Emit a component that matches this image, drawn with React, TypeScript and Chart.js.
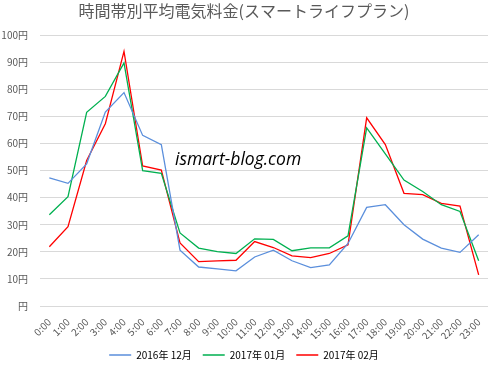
import React, { useEffect, useRef } from "react";
import { Chart, registerables } from "chart.js";

Chart.register(...registerables);

const hours = ["0:00","1:00","2:00","3:00","4:00","5:00","6:00","7:00","8:00","9:00","10:00","11:00","12:00","13:00","14:00","15:00","16:00","17:00","18:00","19:00","20:00","21:00","22:00","23:00"];
const dec2016 = [47.3,45.3,52.5,71.6,78.8,63.0,59.6,20.6,14.4,13.7,13.0,18.1,20.6,16.7,14.2,15.2,23.1,36.4,37.4,30.0,24.7,21.4,19.8,26.3];
const jan2017 = [33.7,40.4,71.5,77.4,89.8,50.0,49.0,27.0,21.4,20.1,19.4,24.8,24.6,20.4,21.5,21.5,25.9,65.8,56.2,46.5,42.3,37.4,34.9,16.7];
const feb2017 = [21.9,29.3,53.7,67.3,94.0,51.7,50.2,23.3,16.4,16.7,16.9,23.8,21.6,18.5,17.9,19.4,22.6,69.5,59.6,41.6,41.1,37.9,36.9,11.5];
const seriesNames = ["2016年 12月", "2017年 01月", "2017年 02月"];
const titleText = "時間帯別平均電気料金(スマートライフプラン)";
const watermark = "ismart-blog.com";

const FONT = "'Noto Sans CJK JP', 'Noto Sans', sans-serif";

export default function App() {
  const ref = useRef<HTMLCanvasElement>(null);
  useEffect(() => {
    document.body.style.margin = "0";
    const wm = {
      id: "wm",
      afterDatasetsDraw(chart: any) {
        const ctx = chart.ctx;
        ctx.save();
        ctx.font = "italic 17.5px 'Open Sans', sans-serif";
        ctx.fillStyle = "#000";
        ctx.textAlign = "left";
        ctx.textBaseline = "alphabetic";
        ctx.fillText(watermark, 175, 165);
        ctx.restore();
      },
    };
    const chart = new Chart(ref.current!, {
      type: "line",
      data: {
        labels: hours,
        datasets: [
          { label: seriesNames[0], data: dec2016, borderColor: "#5B8FDC", backgroundColor: "#5B8FDC", borderWidth: 1.3, pointRadius: 0, tension: 0 },
          { label: seriesNames[1], data: jan2017, borderColor: "#00B050", backgroundColor: "#00B050", borderWidth: 1.3, pointRadius: 0, tension: 0 },
          { label: seriesNames[2], data: feb2017, borderColor: "#FF0000", backgroundColor: "#FF0000", borderWidth: 1.3, pointRadius: 0, tension: 0 },
        ],
      },
      options: {
        animation: false,
        responsive: false,
        layout: { padding: { left: 0, right: 5, top: 0, bottom: -3 } },
        plugins: {
          title: {
            display: true,
            text: titleText,
            color: "#595959",
            font: { family: FONT, size: 16, weight: "normal" },
            padding: { top: 1, bottom: 15 },
          },
          legend: {
            position: "bottom",
            labels: {
              color: "#595959",
              font: { family: FONT, size: 10 },
              boxWidth: 22,
              boxHeight: 0,
              padding: 11,
              generateLabels(chart: any) {
                return chart.data.datasets.map((d: any, i: number) => ({
                  text: d.label,
                  fillStyle: d.borderColor,
                  strokeStyle: d.borderColor,
                  lineWidth: 1.5,
                  datasetIndex: i,
                  hidden: false,
                }));
              },
            },
          },
          tooltip: { enabled: false },
        },
        scales: {
          x: {
            offset: true,
            grid: { display: false },
            border: { display: false },
            afterFit(scale: any) {
              scale.height = 33;
              scale.paddingLeft = 0;
              scale.paddingRight = 0;
            },
            ticks: { color: "#595959", padding: 2, font: { family: FONT, size: 10 }, maxRotation: 45, minRotation: 45, autoSkip: false },
          },
          y: {
            min: 0,
            max: 100,
            border: { display: false },
            grid: { color: "#D9D9D9", lineWidth: 1, drawTicks: false },
            afterFit(scale: any) { scale.width = 40; },
            ticks: {
              stepSize: 10,
              color: "#595959",
              padding: 12,
              font: { family: FONT, size: 10 },
              callback: (v: any) => (v === 0 ? "円" : v + "円"),
            },
          },
        },
      },
      plugins: [wm],
    });
    return () => chart.destroy();
  }, []);
  return <canvas ref={ref} width={493} height={367} style={{ display: "block" }} />;
}
